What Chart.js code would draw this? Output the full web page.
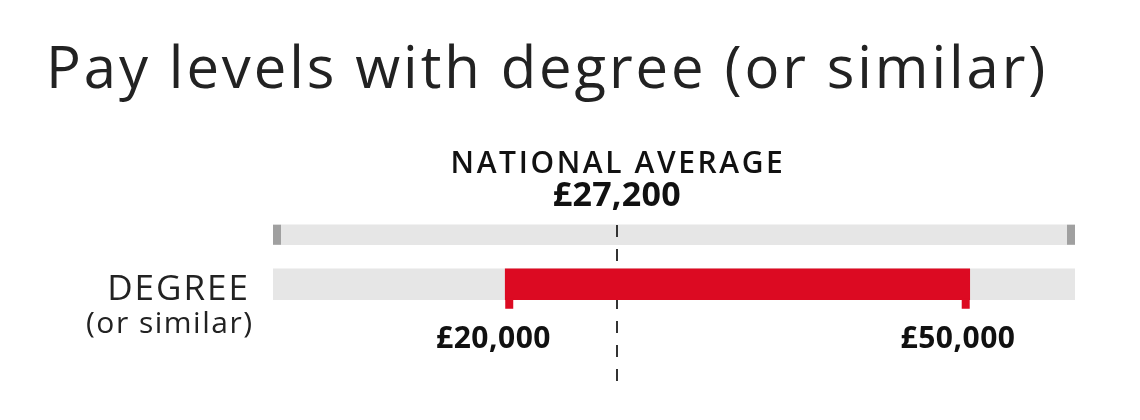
<!DOCTYPE html>
<html lang="en">
<head>
    <meta charset="UTF-8">
    <title>Pay levels with degree (or similar)</title>
    <script src="https://cdn.jsdelivr.net/npm/chart.js"></script>
    <style>
        body { margin: 0; background: #fff; }
        #wrap { width: 1140px; height: 420px; }
    </style>
</head>
<body>
    <div id="wrap"><canvas id="payChart"></canvas></div>

    <script>
        // Chart data
        const titleText = 'Pay levels with degree (or similar)';
        const rows = ['national', 'degree'];
        const rowLabels = ['', 'DEGREE'];
        const rowSubLabels = ['', '(or similar)'];
        const scaleRange = [5000, 56800];
        const payRange = [20000, 50000];
        const payLabels = ['£20,000', '£50,000'];
        const nationalAverage = 27200;
        const averageLabels = ['NATIONAL AVERAGE', '£27,200'];

        const RED = '#dc0a22';
        const TRACK = '#e6e6e6';
        const CAP = '#a0a0a0';
        const FONT = '"Open Sans", "Noto Sans", sans-serif';

        // draw text with letter spacing, keeping the alignment right
        function spacedText(ctx, text, x, y, spacing) {
            ctx.letterSpacing = spacing + 'px';
            let dx = 0;
            if (ctx.textAlign === 'center') dx = spacing / 2;
            if (ctx.textAlign === 'right') dx = spacing;
            ctx.fillText(text, x + dx, y);
            ctx.letterSpacing = '0px';
        }

        // text, dashed average line and little end marks
        const decorPlugin = {
            id: 'decor',
            beforeDatasetDraw(chart, args) {
                // dashed line goes over the grey tracks but under the red bar
                if (args.index !== 0) return;
                const ctx = chart.ctx;
                const x = Math.round(chart.scales.x.getPixelForValue(nationalAverage));
                const area = chart.chartArea;
                ctx.save();
                ctx.strokeStyle = '#333';
                ctx.lineWidth = 2;
                ctx.setLineDash([12, 12]);
                ctx.beginPath();
                ctx.moveTo(x, area.top + 15);
                ctx.lineTo(x, area.bottom + 72);
                ctx.stroke();
                ctx.restore();
            },
            afterDatasetsDraw(chart) {
                const ctx = chart.ctx;
                const xs = chart.scales.x;
                const ys = chart.scales.y;
                ctx.save();

                // grey caps on the top track
                const top = chart.getDatasetMeta(1).data[0];
                const th = top.height;
                ctx.fillStyle = CAP;
                ctx.fillRect(top.base, top.y - th / 2, 8, th);
                ctx.fillRect(top.x - 8, top.y - th / 2, 8, th);

                // small drop marks at the ends of the red bar
                const bar = chart.getDatasetMeta(0).data[1];
                const by = bar.y + bar.height / 2;
                ctx.fillStyle = RED;
                ctx.fillRect(bar.base, by - 1, 8, 10);
                ctx.fillRect(bar.x - 8, by - 1, 8, 10);

                // title
                ctx.fillStyle = '#222';
                ctx.textBaseline = 'alphabetic';
                ctx.textAlign = 'left';
                ctx.font = '400 58px ' + FONT;
                spacedText(ctx, titleText, 46, 88, 2.9);

                // national average label, centred on the dashed line
                const ax = xs.getPixelForValue(nationalAverage);
                ctx.fillStyle = '#111';
                ctx.textAlign = 'center';
                ctx.font = '600 30px ' + FONT;
                spacedText(ctx, averageLabels[0], ax, 173, 2.6);
                ctx.font = '700 34px ' + FONT;
                spacedText(ctx, averageLabels[1], ax, 206, 0.3);

                // row labels
                ctx.fillStyle = '#222';
                ctx.textAlign = 'right';
                const ry = ys.getPixelForValue(1);
                ctx.font = '400 35px ' + FONT;
                spacedText(ctx, rowLabels[1], 248, 300, 2);
                ctx.font = '400 30px ' + FONT;
                spacedText(ctx, rowSubLabels[1], 252, 333, 1.5);

                // pay range labels
                ctx.fillStyle = '#111';
                ctx.textAlign = 'center';
                ctx.font = '700 30px ' + FONT;
                payRange.forEach((v, i) => {
                    spacedText(ctx, payLabels[i], xs.getPixelForValue(v) - 12, 348, 0.5);
                });
                ctx.restore();
            }
        };

        new Chart(document.getElementById('payChart'), {
            type: 'bar',
            data: {
                labels: rows,
                datasets: [
                    {
                        label: 'Degree pay',
                        data: [null, payRange],
                        backgroundColor: RED,
                        barThickness: 31,
                        order: 0
                    },
                    {
                        label: 'Scale top',
                        data: [scaleRange, null],
                        backgroundColor: TRACK,
                        barThickness: 20,
                        order: 1
                    },
                    {
                        label: 'Scale degree',
                        data: [null, scaleRange],
                        backgroundColor: TRACK,
                        barThickness: 31,
                        order: 2
                    }
                ]
            },
            options: {
                indexAxis: 'y',
                responsive: true,
                maintainAspectRatio: false,
                animation: false,
                datasets: { bar: { grouped: false, borderSkipped: false } },
                layout: { padding: { left: 273, right: 65, top: 210, bottom: 111 } },
                scales: {
                    x: { type: 'linear', min: scaleRange[0], max: scaleRange[1], display: false },
                    y: { display: false }
                },
                plugins: {
                    legend: { display: false },
                    tooltip: { enabled: false }
                }
            },
            plugins: [decorPlugin]
        });
    </script>
</body>
</html>
